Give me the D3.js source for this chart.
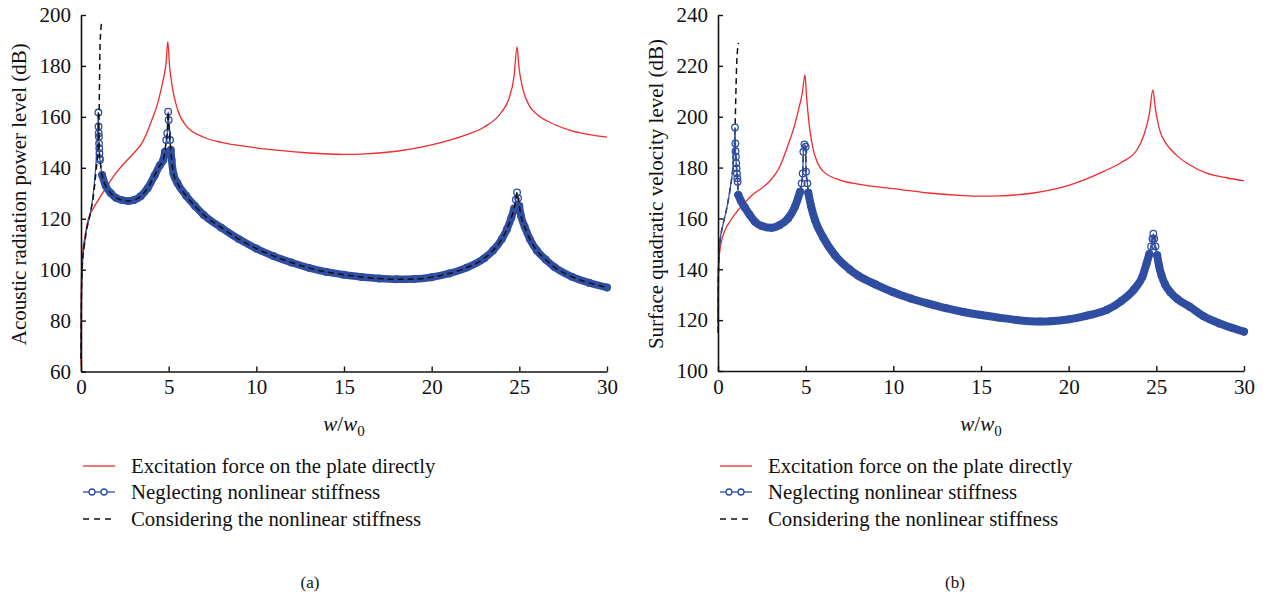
<!DOCTYPE html>
<html>
<head>
<meta charset="utf-8">
<script src="https://cdn.jsdelivr.net/npm/d3@7/dist/d3.min.js"></script>
<style>
  body { margin: 0; background: #fff; }
  svg { display: block; font-family: "Liberation Serif", "DejaVu Serif", serif; }
</style>
</head>
<body>
<svg id="chart" width="1269" height="603"></svg>
<script>
// --- Data ---
const xTicks = [0, 5, 10, 15, 20, 25, 30];
const yTicksA = [60, 80, 100, 120, 140, 160, 180, 200];
const yTicksB = [100, 120, 140, 160, 180, 200, 220, 240];

const legendLabels = [
  'Excitation force on the plate directly',
  'Neglecting nonlinear stiffness',
  'Considering the nonlinear stiffness'
];

// panel (a): acoustic radiation power level
const redA = [[0,62],[0.01,85],[0.03,97],[0.1,107],[0.2,112],[0.4,119.5],[0.7,124],[1,127.5],[1.5,133],[2,138],[2.5,142],[3,145.7],[3.5,150],[4,158],[4.4,166],[4.7,175],[4.85,181],[4.95,189.5],[5.05,180],[5.2,172],[5.5,163],[6,156.5],[7,152],[8,150],[9.5,148.3],[11,147],[13,145.8],[15,145.3],[16,145.4],[18,146.5],[20,149],[22,153],[23,156],[24,162],[24.4,167],[24.7,176],[24.87,187.5],[24.97,180],[25.2,171],[25.6,164],[26,161],[27,157],[28,154.5],[29,153],[30,152]];
const blueA = [[0,65],[0.02,85],[0.05,97],[0.1,104],[0.2,110],[0.3,115],[0.5,121],[0.6,125],[0.7,130],[0.8,137],[0.9,147],[0.96,156],[0.99,161.7],[1.0,156.2],[1.01,153.6],[1.02,152.2],[1.03,149.6],[1.04,147.7],[1.05,145.7],[1.07,143.7],[1.08,143.1],[1.2,137.2],[1.4,133],[1.7,130],[2,128.2],[2.3,127.4],[2.7,127],[3,127.3],[3.4,128.8],[3.8,132],[4.2,137],[4.5,141],[4.69,143.1],[4.79,146.3],[4.86,150.9],[4.92,153.6],[4.97,162],[5.0,158.8],[5.08,150.9],[5.12,147],[5.17,143.1],[5.27,137.8],[5.5,134],[6,129],[6.5,125],[7,121.5],[8,116.5],[9,112],[10,108.3],[11,105.3],[12,102.8],[13,100.7],[14,99.1],[15,98],[16,97.1],[17,96.5],[18,96.2],[19,96.3],[20,97],[21,98.5],[22,100.8],[23,104.5],[23.5,107.5],[24,112],[24.3,116],[24.55,120.5],[24.7,124],[24.8,127.5],[24.87,130.3],[24.93,128],[25.0,125],[25.1,121],[25.3,117],[25.6,112],[26,107.5],[26.5,104],[27,101],[28,97.2],[29,94.8],[30,93]];
const dashUpA = [[0,65],[0.02,85],[0.05,97],[0.1,104],[0.2,110],[0.3,115],[0.5,121],[0.7,128.6],[0.85,138],[1.0,151],[1.04,165],[1.08,186],[1.13,194],[1.2,198]];

// panel (b): surface quadratic velocity level
const redB = [[0,121],[0.01,135],[0.03,141],[0.1,147],[0.2,151],[0.4,155.4],[0.7,159],[1,162],[1.5,166],[2,169.5],[2.5,172],[3,175],[3.5,180],[4,189],[4.3,195],[4.6,203],[4.8,209],[4.96,216.4],[5.05,208],[5.2,197],[5.4,188],[5.7,181.5],[6,178.5],[7,175],[8,173.5],[9,172.5],[10,171.7],[12,170],[14,169],[15,168.8],[16,168.9],[18,170],[20,173],[22,178.5],[23,182],[23.9,187],[24.3,193],[24.6,201],[24.8,210.5],[24.95,203],[25.2,194.5],[25.5,190],[25.8,187.3],[26.2,184.5],[26.8,181.5],[27.9,177.7],[29,176],[30,174.8]];
const blueB = [[0,115],[0.02,135],[0.05,145],[0.1,150],[0.3,158],[0.5,164],[0.7,172],[0.85,180],[0.93,188],[0.97,195.8],[0.99,189.5],[1.0,186.4],[1.02,184.3],[1.04,181.7],[1.06,179.7],[1.08,177.7],[1.1,175.8],[1.12,174.4],[1.16,169.2],[1.3,167],[1.54,164.2],[1.8,161.5],[2.11,158.7],[2.5,157],[3.06,156.3],[3.5,157.3],[4,160],[4.39,164.6],[4.68,170.5],[4.77,173.8],[4.83,177.7],[4.87,186.2],[4.93,189.1],[5.0,188.2],[5.02,178.4],[5.1,173.8],[5.15,170.1],[5.3,165],[5.53,159.4],[6,152.5],[6.67,145.5],[7.5,140],[8,137.5],[9,134],[10,131],[11,128.5],[12,126.5],[13,124.7],[14,123.2],[15,122],[16,121],[17,120.1],[18.37,119.5],[19,119.6],[20,120.3],[21,121.7],[22.17,124],[23,127.5],[23.7,131.9],[24.2,137],[24.45,142.4],[24.6,146],[24.7,149],[24.78,152],[24.83,154],[24.88,152],[24.95,149],[25.05,145.5],[25.15,141.5],[25.3,137.5],[25.5,134],[25.8,131],[26.2,128.3],[26.9,125.3],[27.7,121.5],[28.6,118.7],[29.3,117],[30,115.5]];
const dashUpB = [[0,115],[0.02,135],[0.05,145],[0.1,150],[0.3,158],[0.5,164],[0.7,172],[0.85,180],[0.97,195],[1.03,212],[1.06,219.7],[1.1,225],[1.16,229]];

// x-ranges where the markers separate (no solid band)
const bandGapsA = [[-1, 1.15], [4.85, 5.1], [24.78, 24.95]];
const bandGapsB = [[-1, 1.15], [4.75, 5.12], [24.62, 25.02]];

// --- Styles ---
const RED = '#ee2b2e';
const BLUE = '#2f4ea2';
const FONT_TICK = 21;
const FONT_TEXT = 20.8;

const svg = d3.select('#chart');

function drawPanel(opt) {
  const x = d3.scaleLinear().domain([0, 30]).range([opt.left, opt.right]);
  const y = d3.scaleLinear().domain(opt.yDomain).range([opt.bottom, opt.top]);
  const g = svg.append('g');

  const line = d3.line().x(d => x(d[0])).y(d => y(d[1])).curve(d3.curveMonotoneX);
  const inGap = v => opt.gaps.some(r => v > r[0] && v < r[1]);
  const bandLine = d3.line().defined(d => !inGap(d[0]))
    .x(d => x(d[0])).y(d => y(d[1])).curve(d3.curveMonotoneX);

  // red series
  g.append('path').datum(opt.red)
    .attr('fill', 'none').attr('stroke', RED).attr('stroke-width', 1.3)
    .attr('d', line);

  const drawDash = () => {
    g.append('path').datum(opt.dashUp)
      .attr('fill', 'none').attr('stroke', '#111').attr('stroke-width', 1.5)
      .attr('stroke-dasharray', '6,4').attr('d', line);
    g.append('path').datum(opt.blue.filter(d => d[0] >= 0.99))
      .attr('fill', 'none').attr('stroke', '#111').attr('stroke-width', 1.5)
      .attr('stroke-dasharray', '6,4').attr('d', line);
  };

  if (!opt.dashOnTop) drawDash();

  // blue series: thin line, dense marker band, markers
  g.append('path').datum(opt.blue)
    .attr('fill', 'none').attr('stroke', BLUE).attr('stroke-width', 1.2)
    .attr('d', line);
  g.append('path').datum(opt.blue)
    .attr('fill', 'none').attr('stroke', BLUE).attr('stroke-width', opt.band)
    .attr('stroke-linecap', 'round').attr('stroke-linejoin', 'round')
    .attr('d', bandLine);
  g.append('g').selectAll('circle')
    .data(opt.blue.filter(d => d[0] >= 0.97))
    .join('circle')
    .attr('cx', d => x(d[0])).attr('cy', d => y(d[1])).attr('r', 3.3)
    .attr('fill', 'none').attr('stroke', BLUE).attr('stroke-width', 1.3);

  if (opt.dashOnTop) drawDash();

  // axes (ticks point inward)
  const xAxis = g.append('g').attr('transform', `translate(0,${opt.bottom})`)
    .call(d3.axisBottom(x).tickValues(xTicks).tickSizeInner(-5).tickSizeOuter(0).tickPadding(8));
  const yAxis = g.append('g').attr('transform', `translate(${opt.left},0)`)
    .call(d3.axisLeft(y).tickValues(opt.yTicks).tickSizeInner(-5).tickSizeOuter(0).tickPadding(10));
  [xAxis, yAxis].forEach(a => {
    a.select('.domain').attr('stroke', '#111').attr('stroke-width', 1.6);
    a.selectAll('.tick line').attr('stroke', '#111').attr('stroke-width', 1.4);
    a.selectAll('.tick text').attr('fill', '#111')
      .style('font-family', '"Liberation Serif", serif').style('font-size', FONT_TICK + 'px');
  });

  // y-axis title
  g.append('text')
    .attr('transform', `translate(${opt.left - 55},${(opt.top + opt.bottom) / 2 + 1}) rotate(-90)`)
    .attr('text-anchor', 'middle').attr('font-size', 21).attr('fill', '#111')
    .text(opt.yTitle);

  // x-axis title: w/w0
  const xt = g.append('text')
    .attr('x', (opt.left + opt.right) / 2).attr('y', 431)
    .attr('text-anchor', 'middle').attr('font-size', 21).attr('fill', '#111');
  xt.append('tspan').attr('font-style', 'italic').text('w');
  xt.append('tspan').text('/');
  xt.append('tspan').attr('font-style', 'italic').text('w');
  xt.append('tspan').attr('font-size', 15).attr('dy', 5).text('0');

  // legend
  const lx = opt.left + 2;
  const ly = [466, 492, 519];
  const lg = g.append('g');
  lg.append('line').attr('x1', lx).attr('x2', lx + 32).attr('y1', ly[0]).attr('y2', ly[0])
    .attr('stroke', RED).attr('stroke-width', 1.3);
  lg.append('line').attr('x1', lx).attr('x2', lx + 32).attr('y1', ly[1]).attr('y2', ly[1])
    .attr('stroke', BLUE).attr('stroke-width', 1.3);
  lg.selectAll('circle').data([lx + 9, lx + 21]).join('circle')
    .attr('cx', d => d).attr('cy', ly[1]).attr('r', 3)
    .attr('fill', '#fff').attr('stroke', BLUE).attr('stroke-width', 1.3);
  lg.append('line').attr('x1', lx).attr('x2', lx + 32).attr('y1', ly[2]).attr('y2', ly[2])
    .attr('stroke', '#111').attr('stroke-width', 1.4).attr('stroke-dasharray', '6,5');
  lg.selectAll('text').data(legendLabels).join('text')
    .attr('x', lx + 48).attr('y', (d, i) => ly[i] + 7)
    .attr('font-size', FONT_TEXT).attr('fill', '#111').text(d => d);

  // panel label
  g.append('text').attr('x', opt.labelX).attr('y', 588)
    .attr('text-anchor', 'middle').attr('font-size', 17).attr('fill', '#111')
    .text(opt.label);
}

drawPanel({
  left: 81, right: 607, top: 15, bottom: 371.5,
  yDomain: [60, 200], yTicks: yTicksA,
  red: redA, blue: blueA, dashUp: dashUpA, dashOnTop: true, band: 7.5, gaps: bandGapsA,
  yTitle: 'Acoustic radiation power level (dB)',
  label: '(a)', labelX: 310
});

drawPanel({
  left: 718, right: 1244, top: 15, bottom: 371,
  yDomain: [100, 240], yTicks: yTicksB,
  red: redB, blue: blueB, dashUp: dashUpB, dashOnTop: false, band: 8, gaps: bandGapsB,
  yTitle: 'Surface quadratic velocity level (dB)',
  label: '(b)', labelX: 955
});
</script>
</body>
</html>
